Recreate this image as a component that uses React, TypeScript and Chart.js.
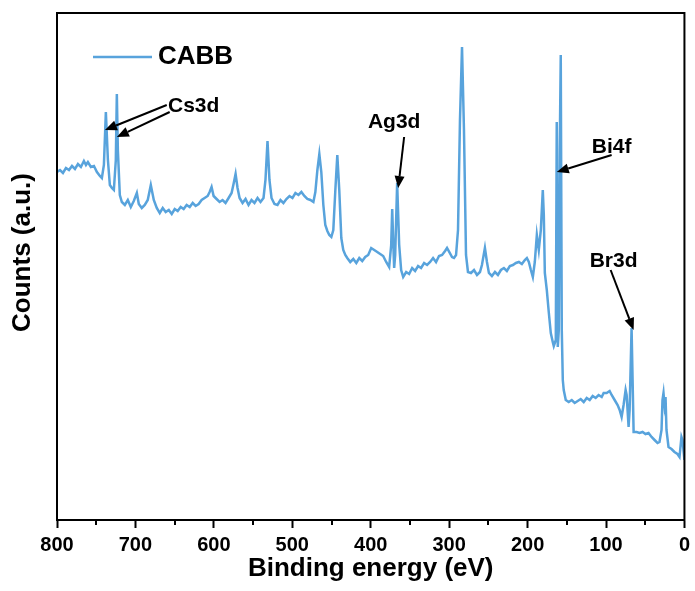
import React, { useEffect, useRef } from "react";
import { Chart, registerables } from "chart.js";

Chart.register(...registerables);

// Binding energy (eV)
const energies = [
  800.0, 796.2, 792.4, 788.6, 784.7, 780.9, 777.1, 773.3, 769.5, 765.7, 763.1, 760.6, 756.8, 752.9, 749.1, 745.3,
  742.8, 740.2, 737.7, 735.1, 732.6, 730.0, 727.5, 725.0, 723.7, 722.4, 719.9, 717.3, 713.5, 709.7, 705.9, 702.1,
  698.2, 695.7, 691.9, 688.1, 684.3, 680.4, 676.6, 672.8, 669.0, 665.2, 661.4, 657.5, 653.7, 649.9, 646.1, 642.3,
  638.5, 634.7, 630.8, 627.0, 623.2, 619.4, 615.6, 611.8, 607.9, 605.4, 602.9, 600.3, 596.5, 592.7, 588.9, 585.1,
  581.2, 577.4, 574.9, 572.3, 569.8, 567.2, 563.4, 559.6, 555.8, 552.0, 548.2, 544.3, 540.5, 536.7, 534.2, 531.6,
  529.1, 526.5, 522.7, 518.9, 515.1, 511.3, 507.5, 503.6, 499.8, 496.0, 492.2, 488.4, 484.6, 480.8, 476.9, 473.1,
  470.6, 468.0, 465.5, 463.0, 460.4, 457.9, 455.3, 452.8, 450.2, 447.7, 445.1, 442.6, 440.1, 437.5, 435.0, 432.4,
  429.9, 426.1, 422.2, 418.4, 414.6, 410.8, 407.0, 403.2, 399.4, 395.5, 391.7, 387.9, 384.1, 380.3, 376.5, 373.9,
  372.6, 371.4, 370.1, 368.8, 366.3, 363.7, 361.2, 358.6, 354.8, 351.0, 347.2, 343.4, 339.6, 335.8, 331.9, 328.1,
  324.3, 320.5, 316.7, 312.9, 309.0, 305.2, 302.7, 296.3, 293.8, 291.2, 288.7, 286.2, 283.6, 281.1, 278.5, 276.0,
  272.2, 268.3, 264.5, 260.7, 258.2, 254.4, 251.8, 249.3, 245.5, 241.6, 237.8, 234.0, 230.2, 226.4, 222.6, 218.7,
  214.9, 211.1, 207.3, 203.5, 200.9, 198.4, 195.8, 193.3, 190.8, 188.2, 185.7, 183.1, 180.6, 179.3, 178.0, 175.5,
  173.0, 170.4, 167.9, 166.6, 164.0, 162.8, 161.5, 160.2, 159.0, 157.7, 156.4, 155.1, 153.9, 151.3, 147.5, 143.7,
  139.9, 136.1, 132.3, 128.4, 124.6, 120.8, 117.0, 113.2, 109.4, 105.5, 103.0, 99.2, 95.4, 92.8, 89.0, 85.2,
  82.6, 80.1, 77.6, 75.0, 73.7, 71.2, 69.9, 67.4, 66.1, 64.8, 61.0, 57.2, 53.4, 49.6, 45.8, 41.9,
  38.1, 34.3, 31.8, 29.2, 28.0, 26.7, 25.4, 24.1, 22.9, 20.3, 16.5, 12.7, 8.9, 6.3, 3.8, 2.5,
  0.0,
];

// Counts (a.u.)
const counts = [
  34800, 35000, 34700, 35200, 35000, 35400, 35100, 35600, 35300, 35900, 35500, 35800, 35300, 35400, 34800, 34400,
  34200, 35500, 40800, 36000, 33500, 33200, 33000, 36000, 42600, 37000, 32500, 31800, 31500, 32000, 31300, 31900,
  32700, 31600, 31200, 31500, 32000, 33500, 32000, 31200, 30700, 31200, 30800, 31000, 30600, 31100, 30900, 31300,
  31100, 31500, 31300, 31700, 31400, 31600, 32000, 32200, 32400, 32800, 33300, 32400, 32100, 31800, 32000, 31700,
  32200, 32700, 33600, 34600, 33200, 32200, 31700, 32100, 31500, 32000, 31700, 32200, 31800, 32200, 34000, 37900,
  34000, 32200, 31600, 31500, 32000, 31700, 32100, 32400, 32200, 32700, 32500, 32800, 32400, 32100, 32000, 31800,
  32800, 35000, 36600, 34800, 31500, 29500, 28900, 28500, 28300, 29000, 33000, 36500, 33000, 28200, 27000, 26500,
  26200, 25800, 26100, 25700, 26200, 25900, 26300, 26500, 27200, 27000, 26800, 26600, 26400, 25800, 25300, 27500,
  31100, 28000, 25200, 26500, 33700, 27500, 25000, 24300, 24800, 24600, 25200, 24900, 25400, 25200, 25700, 25500,
  25800, 26200, 25800, 26400, 26500, 26900, 27200, 26300, 26200, 26500, 29000, 40000, 47300, 39000, 26500, 24800,
  24700, 25000, 24500, 24800, 25500, 27200, 25800, 24700, 24400, 24800, 24500, 25000, 25200, 24900, 25400, 25500,
  25700, 25800, 25600, 26000, 26200, 25800, 25000, 24300, 25800, 28500, 27000, 29000, 33000, 30500, 24700, 23000,
  20800, 18700, 17800, 17400, 18000, 39800, 17300, 19000, 37000, 46500, 19000, 14000, 13000, 12000, 11800, 12000,
  11700, 11900, 12100, 11800, 12200, 12000, 12400, 12200, 12500, 12300, 12700, 12700, 12900, 12500, 12000, 11500,
  11000, 10300, 11500, 13000, 12500, 9300, 11000, 19200, 14000, 8800, 8800, 8700, 8800, 8600, 8700, 8300,
  8000, 7700, 7800, 9000, 12000, 12700, 11500, 12300, 9000, 7300, 7100, 6800, 6600, 6300, 8300, 8000,
  6000,
];

const seriesName = "CABB";
const xTitle = "Binding energy (eV)";
const yTitle = "Counts (a.u.)";
const xMin = 0;
const xMax = 800;
const xStep = 100;
const yMin = 0;
const yMax = 50700;

// peak labels, placed in data units (energy, counts)
const peakLabels = ["Cs3d", "Ag3d", "Bi4f", "Br3d"];
const peakLabelEnergy = [625.7, 370.1, 92.8, 90.3];
const peakLabelCounts = [41400, 39800, 37300, 25900];

// arrows in data units
const arrowFromEnergy = [660.1, 656.3, 357.4, 92.8, 94.1];
const arrowFromCounts = [41500, 40800, 38300, 36500, 25000];
const arrowToEnergy = [738.9, 723.7, 365.0, 162.8, 64.8];
const arrowToCounts = [39000, 38300, 33200, 34800, 19000];

const LINE_COLOR = "rgb(88,163,220)";
const FONT = '"Liberation Sans", Arial, Helvetica, sans-serif';

const overlayPlugin = {
  id: "overlay",
  afterDraw(chart: any) {
    const { ctx, chartArea } = chart;
    const { left, right, top, bottom } = chartArea;
    const xs = chart.scales.x;
    const ys = chart.scales.y;
    ctx.save();
    // frame
    ctx.strokeStyle = "#000";
    ctx.lineWidth = 2;
    ctx.strokeRect(left, top, right - left, bottom - top);
    // minor ticks
    for (let v = xMin + xStep / 2; v < xMax; v += xStep) {
      const px = Math.round(xs.getPixelForValue(v));
      ctx.beginPath();
      ctx.moveTo(px, bottom);
      ctx.lineTo(px, bottom + 5);
      ctx.stroke();
    }
    // y title
    ctx.save();
    ctx.translate(left - 34, (top + bottom) / 2 - 14);
    ctx.rotate(-Math.PI / 2);
    ctx.fillStyle = "#000";
    ctx.font = `bold 26px ${FONT}`;
    ctx.textAlign = "center";
    ctx.textBaseline = "middle";
    ctx.fillText(yTitle, 0, 0);
    ctx.restore();
    // legend
    ctx.strokeStyle = LINE_COLOR;
    ctx.lineWidth = 2.5;
    ctx.beginPath();
    ctx.moveTo(left + 36, top + 44);
    ctx.lineTo(left + 95, top + 44);
    ctx.stroke();
    ctx.fillStyle = "#000";
    ctx.font = `bold 26px ${FONT}`;
    ctx.textBaseline = "middle";
    ctx.textAlign = "left";
    ctx.fillText(seriesName, left + 101, top + 44);
    // peak labels
    ctx.font = `bold 21px ${FONT}`;
    ctx.textAlign = "center";
    peakLabels.forEach((t, i) => {
      ctx.fillText(t, xs.getPixelForValue(peakLabelEnergy[i]), ys.getPixelForValue(peakLabelCounts[i]));
    });
    // arrows
    ctx.strokeStyle = "#000";
    ctx.fillStyle = "#000";
    ctx.lineWidth = 2;
    arrowFromEnergy.forEach((_, i) => {
      const x1 = xs.getPixelForValue(arrowFromEnergy[i]);
      const y1 = ys.getPixelForValue(arrowFromCounts[i]);
      const x2 = xs.getPixelForValue(arrowToEnergy[i]);
      const y2 = ys.getPixelForValue(arrowToCounts[i]);
      const ang = Math.atan2(y2 - y1, x2 - x1);
      const hl = 12;
      const hw = 5;
      const bx = x2 - hl * Math.cos(ang);
      const by = y2 - hl * Math.sin(ang);
      ctx.beginPath();
      ctx.moveTo(x1, y1);
      ctx.lineTo(bx, by);
      ctx.stroke();
      ctx.beginPath();
      ctx.moveTo(x2, y2);
      ctx.lineTo(bx + hw * Math.sin(ang), by - hw * Math.cos(ang));
      ctx.lineTo(bx - hw * Math.sin(ang), by + hw * Math.cos(ang));
      ctx.closePath();
      ctx.fill();
    });
    ctx.restore();
  },
};

export default function App() {
  const ref = useRef<HTMLCanvasElement | null>(null);
  useEffect(() => {
    if (!ref.current) return;
    const data = energies.map((e, i) => ({ x: e, y: counts[i] }));
    const chart = new Chart(ref.current, {
      type: "line",
      data: {
        datasets: [
          {
            label: seriesName,
            data,
            borderColor: LINE_COLOR,
            borderWidth: 2.5,
            pointRadius: 0,
            tension: 0,
            fill: false,
          },
        ],
      },
      options: {
        responsive: false,
        animation: false,
        layout: { padding: { top: 13, right: 9, left: 0, bottom: 0 } },
        plugins: { legend: { display: false }, tooltip: { enabled: false } },
        scales: {
          x: {
            type: "linear",
            reverse: true,
            min: xMin,
            max: xMax,
            afterFit: (s: any) => {
              s.height = 71;
            },
            ticks: {
              stepSize: xStep,
              color: "#000",
              padding: 5,
              maxRotation: 0,
              font: { family: FONT, size: 20, weight: "bold" },
            },
            grid: {
              drawOnChartArea: false,
              drawTicks: true,
              tickLength: 8,
              tickWidth: 2,
              tickColor: "#000",
            },
            border: { display: true, color: "#000", width: 2 },
            title: {
              display: true,
              text: xTitle,
              color: "#000",
              padding: { top: 0, bottom: 7 },
              font: { family: FONT, size: 26, weight: "bold" },
            },
          },
          y: {
            min: yMin,
            max: yMax,
            afterFit: (s: any) => {
              s.width = 57;
            },
            ticks: { display: false },
            grid: { display: false },
            border: { display: true, color: "#000", width: 2 },
            title: { display: false },
          },
        },
      },
      plugins: [overlayPlugin],
    } as any);
    return () => chart.destroy();
  }, []);
  return (
    <div style={{ position: "absolute", left: 0, top: 0, width: 695, height: 591, background: "#fff" }}>
      <canvas ref={ref} width={695} height={591} />
    </div>
  );
}
